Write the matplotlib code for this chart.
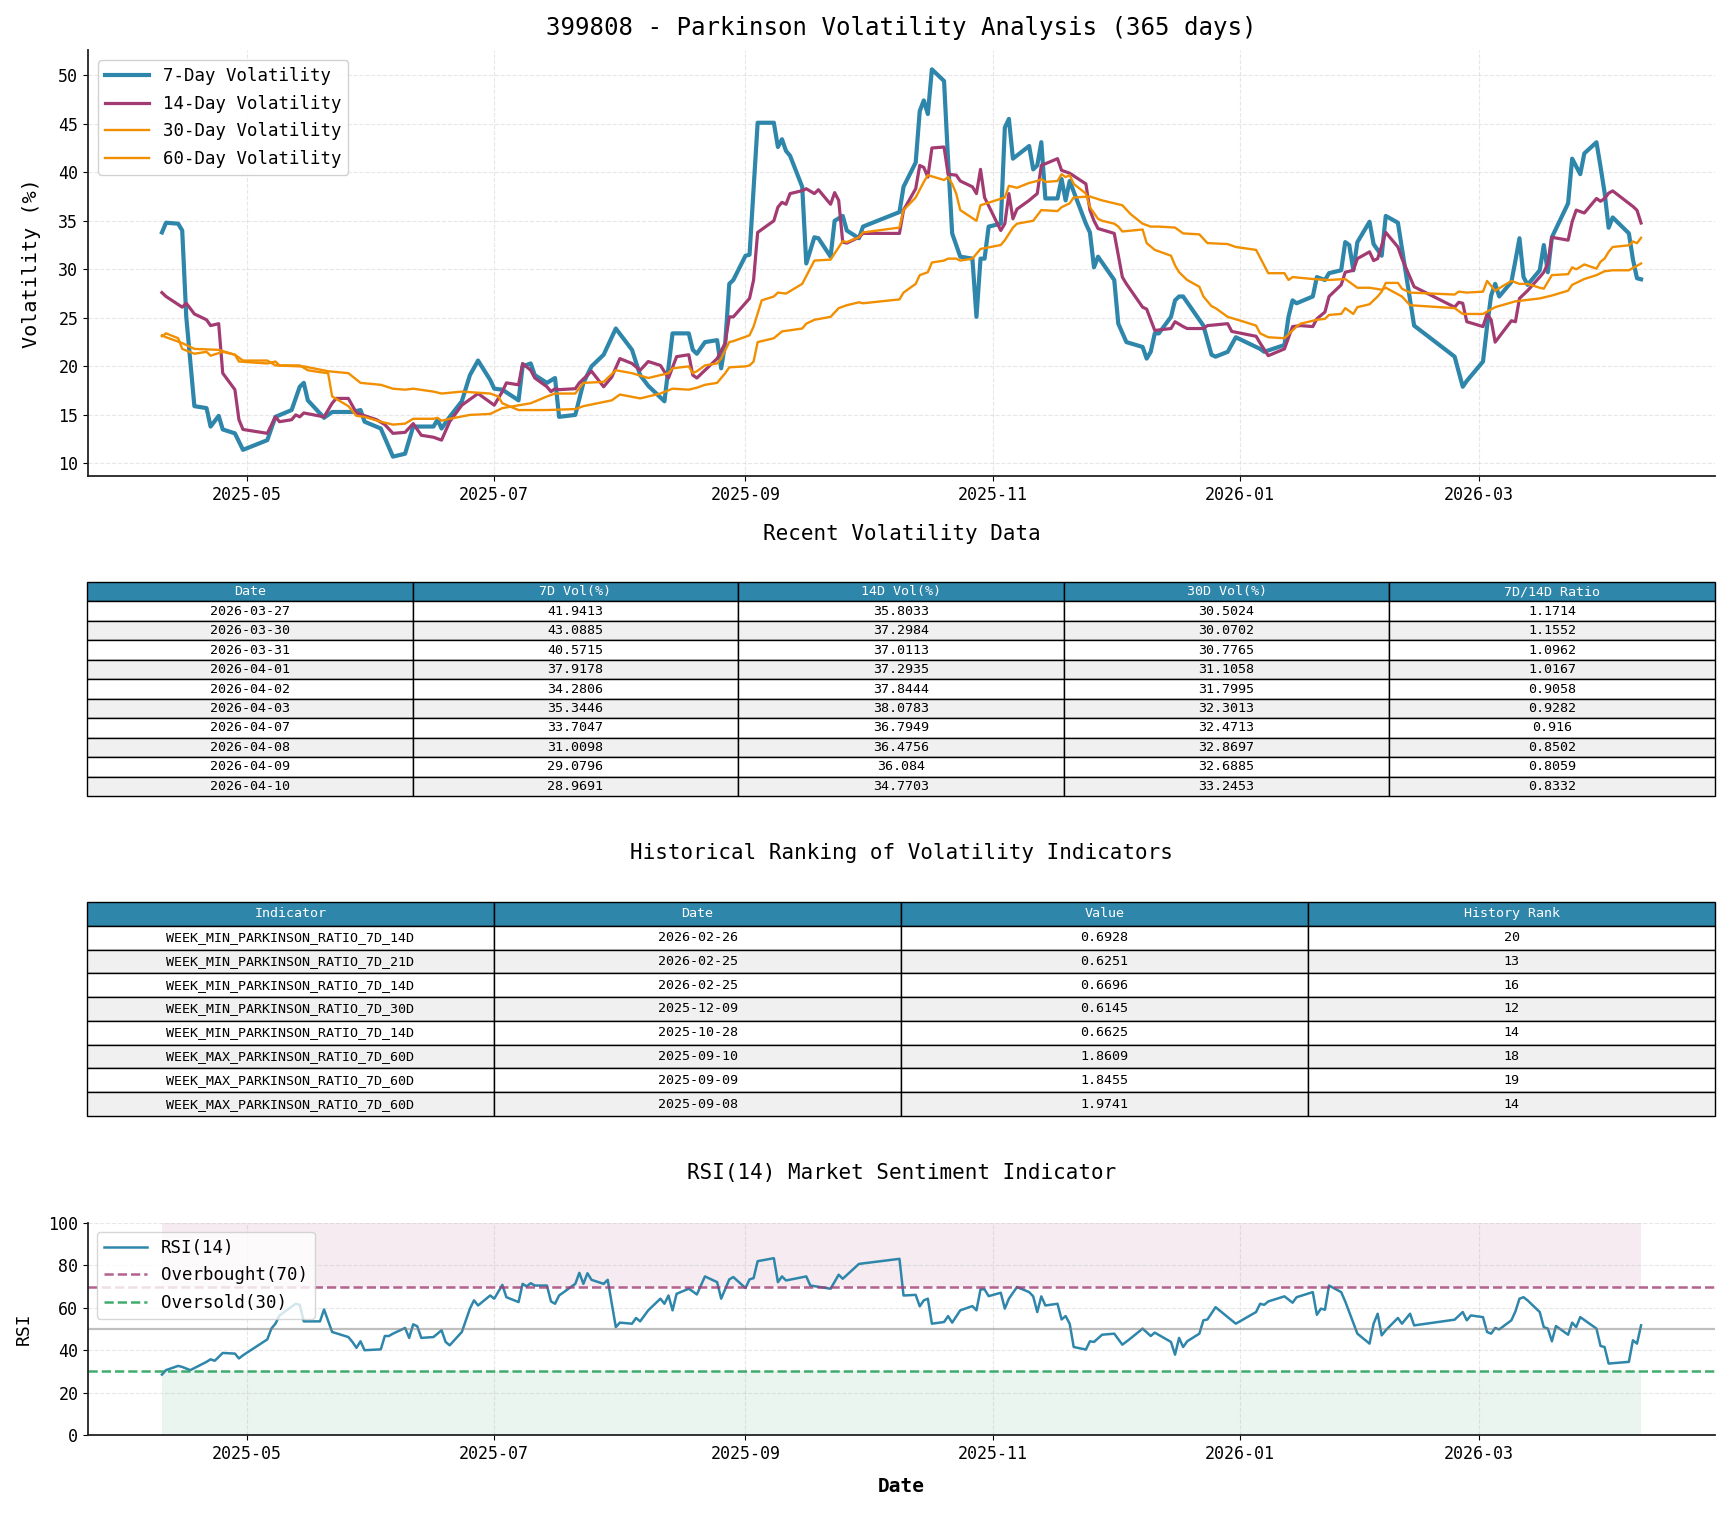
import matplotlib
matplotlib.use("Agg")
import matplotlib.pyplot as plt
import matplotlib.dates as mdates
import pandas as pd

plt.rcParams["font.family"] = ["DejaVu Sans Mono"]
plt.rcParams["axes.unicode_minus"] = False

BLUE = "#2E86AB"
PURPLE = "#A23B72"
ORANGE = "#F18F01"
GREEN = "#2ca25f"

# ---- recent table (also the last 10 points of the 7D/14D/30D lines) ----
recent_dates = ["2026-03-27", "2026-03-30", "2026-03-31", "2026-04-01", "2026-04-02",
                "2026-04-03", "2026-04-07", "2026-04-08", "2026-04-09", "2026-04-10"]
recent_7d = [41.9413, 43.0885, 40.5715, 37.9178, 34.2806, 35.3446, 33.7047, 31.0098, 29.0796, 28.9691]
recent_14d = [35.8033, 37.2984, 37.0113, 37.2935, 37.8444, 38.0783, 36.7949, 36.4756, 36.084, 34.7703]
recent_30d = [30.5024, 30.0702, 30.7765, 31.1058, 31.7995, 32.3013, 32.4713, 32.8697, 32.6885, 33.2453]
recent_ratio = [1.1714, 1.1552, 1.0962, 1.0167, 0.9058, 0.9282, 0.916, 0.8502, 0.8059, 0.8332]

# ---- ranking table ----
rank_indicators = ["WEEK_MIN_PARKINSON_RATIO_7D_14D", "WEEK_MIN_PARKINSON_RATIO_7D_21D",
                   "WEEK_MIN_PARKINSON_RATIO_7D_14D", "WEEK_MIN_PARKINSON_RATIO_7D_30D",
                   "WEEK_MIN_PARKINSON_RATIO_7D_14D", "WEEK_MAX_PARKINSON_RATIO_7D_60D",
                   "WEEK_MAX_PARKINSON_RATIO_7D_60D", "WEEK_MAX_PARKINSON_RATIO_7D_60D"]
rank_dates = ["2026-02-26", "2026-02-25", "2026-02-25", "2025-12-09",
              "2025-10-28", "2025-09-10", "2025-09-09", "2025-09-08"]
rank_values = [0.6928, 0.6251, 0.6696, 0.6145, 0.6625, 1.8609, 1.8455, 1.9741]
rank_history = [20, 13, 16, 12, 14, 18, 19, 14]

# ---- 7-day volatility (before the table period) ----
vol7_dates = """2025-04-10 2025-04-11 2025-04-14 2025-04-15 2025-04-16 2025-04-18 2025-04-21 2025-04-22
2025-04-24 2025-04-25 2025-04-28 2025-04-30 2025-05-06 2025-05-08 2025-05-12 2025-05-14 2025-05-15
2025-05-16 2025-05-20 2025-05-22 2025-05-27 2025-05-29 2025-05-30 2025-06-03 2025-06-06 2025-06-09
2025-06-11 2025-06-16 2025-06-17 2025-06-18 2025-06-20 2025-06-23 2025-06-25 2025-06-27 2025-06-30
2025-07-01 2025-07-03 2025-07-07 2025-07-08 2025-07-10 2025-07-11 2025-07-14 2025-07-16 2025-07-17
2025-07-21 2025-07-23 2025-07-25 2025-07-28 2025-07-31 2025-08-04 2025-08-06 2025-08-08 2025-08-12
2025-08-14 2025-08-18 2025-08-19 2025-08-20 2025-08-22 2025-08-25 2025-08-26 2025-08-27 2025-08-28
2025-08-29 2025-09-01 2025-09-02 2025-09-04 2025-09-08 2025-09-09 2025-09-10 2025-09-11 2025-09-12
2025-09-15 2025-09-16 2025-09-18 2025-09-19 2025-09-22 2025-09-23 2025-09-25 2025-09-26 2025-09-29
2025-09-30 2025-10-09 2025-10-10 2025-10-13 2025-10-14 2025-10-15 2025-10-16 2025-10-17 2025-10-20
2025-10-21 2025-10-22 2025-10-24 2025-10-27 2025-10-28 2025-10-29 2025-10-30 2025-10-31 2025-11-03
2025-11-04 2025-11-05 2025-11-06 2025-11-10 2025-11-11 2025-11-12 2025-11-13 2025-11-14 2025-11-17
2025-11-18 2025-11-19 2025-11-20 2025-11-24 2025-11-25 2025-11-26 2025-11-27 2025-12-01 2025-12-02
2025-12-04 2025-12-08 2025-12-09 2025-12-10 2025-12-11 2025-12-12 2025-12-15 2025-12-16 2025-12-17
2025-12-18 2025-12-23 2025-12-25 2025-12-26 2025-12-29 2025-12-31 2026-01-06 2026-01-07 2026-01-12
2026-01-13 2026-01-14 2026-01-15 2026-01-19 2026-01-20 2026-01-22 2026-01-23 2026-01-26 2026-01-27
2026-01-28 2026-01-29 2026-01-30 2026-02-02 2026-02-03 2026-02-05 2026-02-06 2026-02-09 2026-02-13
2026-02-23 2026-02-25 2026-02-26 2026-03-02 2026-03-03 2026-03-04 2026-03-05 2026-03-06 2026-03-09
2026-03-10 2026-03-11 2026-03-12 2026-03-13 2026-03-16 2026-03-17 2026-03-18 2026-03-19 2026-03-23
2026-03-24 2026-03-26""".split()
vol7 = [33.8, 34.8, 34.7, 34.0, 25.1, 15.9, 15.7, 13.8,
        14.9, 13.5, 13.1, 11.4, 12.4, 14.8, 15.5, 17.9, 18.3,
        16.5, 14.7, 15.3, 15.3, 15.5, 14.3, 13.6, 10.7, 11.0,
        13.8, 13.8, 14.5, 13.6, 14.8, 16.4, 19.1, 20.6, 18.6,
        17.7, 17.6, 16.5, 20.0, 20.3, 19.1, 18.3, 18.8, 14.8,
        15.0, 18.3, 20.0, 21.2, 23.9, 21.7, 19.1, 18.0, 16.4,
        23.4, 23.4, 21.7, 21.3, 22.5, 22.7, 19.8, 22.4, 28.5,
        28.9, 31.4, 31.5, 45.1, 45.1, 42.6, 43.4, 42.2, 41.7,
        38.5, 30.6, 33.3, 33.2, 31.3, 35.0, 35.5, 34.0, 33.2,
        34.4, 35.9, 38.5, 41.0, 46.3, 47.4, 46.0, 50.6, 49.4,
        41.2, 33.7, 31.3, 31.1, 25.1, 31.1, 31.1, 34.4, 34.7,
        44.6, 45.5, 41.4, 42.7, 40.3, 40.7, 43.1, 37.3, 37.3,
        39.3, 37.1, 39.1, 34.7, 33.8, 30.2, 31.3, 28.9, 24.4,
        22.5, 22.0, 20.8, 21.5, 23.4, 23.4, 25.1, 26.8, 27.2,
        27.2, 24.2, 21.2, 21.0, 21.5, 23.0, 21.8, 21.5, 22.2,
        25.1, 26.8, 26.5, 27.2, 29.2, 28.9, 29.6, 29.9, 32.8,
        32.5, 29.9, 32.8, 34.9, 32.6, 31.4, 35.5, 34.8, 24.2,
        21.0, 17.9, 18.5, 20.5, 24.1, 27.3, 28.5, 27.2, 28.7,
        30.9, 33.2, 29.2, 28.4, 29.9, 32.5, 29.7, 33.3, 36.8,
        41.4, 39.8]

# ---- 14-day volatility ----
vol14_dates = """2025-04-10 2025-04-11 2025-04-15 2025-04-16 2025-04-18 2025-04-21 2025-04-22 2025-04-24
2025-04-25 2025-04-28 2025-04-29 2025-04-30 2025-05-06 2025-05-08 2025-05-09 2025-05-12 2025-05-13
2025-05-14 2025-05-15 2025-05-20 2025-05-22 2025-05-23 2025-05-26 2025-05-28 2025-06-02 2025-06-04
2025-06-06 2025-06-09 2025-06-11 2025-06-13 2025-06-16 2025-06-18 2025-06-20 2025-06-23 2025-06-27
2025-07-01 2025-07-03 2025-07-04 2025-07-07 2025-07-08 2025-07-10 2025-07-11 2025-07-14 2025-07-15
2025-07-16 2025-07-17 2025-07-21 2025-07-22 2025-07-25 2025-07-28 2025-07-30 2025-08-01 2025-08-04
2025-08-06 2025-08-08 2025-08-11 2025-08-13 2025-08-15 2025-08-18 2025-08-19 2025-08-20 2025-08-22
2025-08-25 2025-08-27 2025-08-28 2025-08-29 2025-09-02 2025-09-03 2025-09-04 2025-09-08 2025-09-09
2025-09-10 2025-09-11 2025-09-12 2025-09-15 2025-09-16 2025-09-18 2025-09-19 2025-09-22 2025-09-23
2025-09-24 2025-09-25 2025-09-26 2025-09-29 2025-09-30 2025-10-09 2025-10-10 2025-10-13 2025-10-14
2025-10-15 2025-10-16 2025-10-17 2025-10-20 2025-10-21 2025-10-23 2025-10-24 2025-10-27 2025-10-28
2025-10-29 2025-10-30 2025-11-03 2025-11-04 2025-11-05 2025-11-06 2025-11-07 2025-11-10 2025-11-12
2025-11-13 2025-11-17 2025-11-18 2025-11-20 2025-11-24 2025-11-25 2025-11-26 2025-11-27 2025-12-01
2025-12-03 2025-12-04 2025-12-08 2025-12-09 2025-12-11 2025-12-15 2025-12-16 2025-12-18 2025-12-19
2025-12-23 2025-12-24 2025-12-29 2025-12-30 2026-01-05 2026-01-06 2026-01-08 2026-01-12 2026-01-14
2026-01-16 2026-01-19 2026-01-20 2026-01-22 2026-01-23 2026-01-26 2026-01-27 2026-01-29 2026-01-30
2026-02-02 2026-02-03 2026-02-04 2026-02-06 2026-02-09 2026-02-10 2026-02-13 2026-02-23 2026-02-24
2026-02-25 2026-02-26 2026-03-02 2026-03-03 2026-03-04 2026-03-05 2026-03-09 2026-03-10 2026-03-11
2026-03-13 2026-03-16 2026-03-17 2026-03-18 2026-03-19 2026-03-23 2026-03-24 2026-03-25""".split()
vol14 = [27.6, 27.2, 26.1, 26.5, 25.4, 24.8, 24.2, 24.4,
         19.3, 17.6, 14.5, 13.5, 13.1, 14.8, 14.3, 14.5, 15.0,
         14.8, 15.2, 14.8, 16.2, 16.7, 16.7, 15.2, 14.5, 14.0,
         13.1, 13.2, 14.1, 12.9, 12.7, 12.4, 14.3, 16.0, 17.2,
         16.0, 17.4, 18.3, 18.1, 20.3, 19.6, 18.8, 17.9, 17.4,
         17.7, 17.6, 17.7, 18.3, 19.5, 17.9, 18.9, 20.8, 20.3,
         19.6, 20.5, 20.1, 18.8, 21.0, 21.2, 19.1, 18.8, 19.6,
         20.8, 22.4, 25.1, 25.1, 27.0, 28.9, 33.8, 35.0, 36.4,
         36.9, 36.7, 37.8, 38.1, 38.3, 37.8, 38.2, 36.7, 37.9,
         37.1, 32.8, 32.7, 33.3, 33.7, 33.7, 36.1, 38.3, 40.7,
         40.5, 39.5, 42.5, 42.6, 39.8, 39.7, 39.1, 38.5, 37.8,
         40.3, 37.4, 34.0, 34.7, 37.8, 35.2, 36.2, 37.1, 37.8,
         40.7, 41.4, 40.2, 39.9, 38.8, 36.1, 35.0, 34.2, 33.7,
         29.2, 28.5, 26.1, 25.9, 23.7, 23.9, 24.6, 24.1, 23.9,
         23.9, 24.2, 24.4, 23.6, 23.1, 22.4, 21.1, 21.8, 24.1,
         24.2, 24.1, 24.9, 25.6, 27.2, 28.4, 29.7, 29.9, 31.1,
         31.8, 30.9, 31.1, 33.8, 32.3, 31.1, 28.2, 26.1, 26.6,
         26.5, 24.6, 24.1, 25.4, 24.8, 22.5, 24.7, 24.6, 27.0,
         27.8, 29.2, 29.7, 30.6, 33.3, 33.0, 34.9, 36.1]

# ---- 30-day volatility ----
vol30_dates = """2025-04-10 2025-04-11 2025-04-14 2025-04-15 2025-04-18 2025-04-21 2025-04-22 2025-04-25
2025-04-28 2025-04-29 2025-05-06 2025-05-08 2025-05-09 2025-05-14 2025-05-16 2025-05-19 2025-05-21
2025-05-22 2025-05-26 2025-05-28 2025-05-30 2025-06-03 2025-06-06 2025-06-09 2025-06-11 2025-06-16
2025-06-17 2025-06-18 2025-06-20 2025-06-25 2025-06-30 2025-07-03 2025-07-10 2025-07-14 2025-07-16
2025-07-21 2025-07-23 2025-07-28 2025-07-31 2025-08-04 2025-08-08 2025-08-13 2025-08-14 2025-08-18
2025-08-19 2025-08-20 2025-08-22 2025-08-25 2025-08-26 2025-08-28 2025-08-29 2025-09-02 2025-09-03
2025-09-05 2025-09-08 2025-09-09 2025-09-11 2025-09-15 2025-09-18 2025-09-22 2025-09-25 2025-09-26
2025-09-29 2025-09-30 2025-10-09 2025-10-10 2025-10-13 2025-10-15 2025-10-16 2025-10-20 2025-10-21
2025-10-22 2025-10-23 2025-10-24 2025-10-28 2025-10-29 2025-11-04 2025-11-05 2025-11-07 2025-11-10
2025-11-12 2025-11-13 2025-11-14 2025-11-17 2025-11-18 2025-11-19 2025-11-20 2025-11-21 2025-11-24
2025-11-25 2025-11-27 2025-11-28 2025-12-01 2025-12-02 2025-12-03 2025-12-08 2025-12-09 2025-12-11
2025-12-15 2025-12-16 2025-12-17 2025-12-19 2025-12-22 2025-12-23 2025-12-25 2025-12-26 2025-12-29
2026-01-02 2026-01-05 2026-01-06 2026-01-08 2026-01-12 2026-01-15 2026-01-16 2026-01-20 2026-01-22
2026-01-23 2026-01-26 2026-01-27 2026-01-29 2026-01-30 2026-02-02 2026-02-04 2026-02-05 2026-02-06
2026-02-09 2026-02-10 2026-02-12 2026-02-23 2026-02-24 2026-02-26 2026-03-02 2026-03-03 2026-03-05
2026-03-09 2026-03-11 2026-03-13 2026-03-16 2026-03-17 2026-03-19 2026-03-23 2026-03-24 2026-03-25""".split()
vol30 = [23.1, 23.4, 22.9, 21.8, 21.3, 21.5, 21.1, 21.5,
         21.2, 20.5, 20.3, 20.5, 20.1, 20.1, 19.6, 19.4, 19.3,
         16.9, 15.9, 14.9, 14.8, 14.3, 14.0, 14.1, 14.6, 14.6,
         14.7, 14.4, 14.6, 15.0, 15.1, 15.7, 16.2, 16.9, 17.2,
         17.2, 18.3, 18.4, 19.6, 19.3, 18.8, 19.3, 19.8, 20.0,
         19.3, 19.5, 20.1, 20.3, 20.8, 22.5, 22.6, 23.2, 24.1,
         26.8, 27.2, 27.6, 27.5, 28.5, 30.9, 31.0, 32.9, 32.8,
         33.3, 33.8, 34.3, 36.1, 37.4, 39.0, 39.7, 39.2, 39.5,
         38.8, 37.8, 36.1, 35.0, 36.6, 37.4, 38.6, 38.4, 38.9,
         39.1, 39.3, 39.0, 39.1, 39.8, 39.5, 39.7, 38.8, 37.8,
         36.4, 35.2, 35.0, 34.7, 34.4, 33.9, 34.1, 32.7, 32.0,
         31.4, 30.4, 29.7, 28.9, 28.2, 27.2, 26.2, 26.0, 25.1,
         24.6, 24.2, 23.4, 23.0, 22.9, 24.1, 24.4, 24.8, 24.9,
         25.3, 25.4, 26.0, 25.4, 26.1, 26.4, 27.2, 27.7, 28.6,
         28.6, 28.0, 27.6, 27.4, 27.7, 27.6, 27.7, 28.8, 27.8,
         28.8, 28.5, 28.5, 28.1, 28.0, 29.4, 29.5, 30.2, 30.0]

# ---- 60-day volatility ----
vol60_dates = """2025-04-10 2025-04-11 2025-04-15 2025-04-18 2025-04-24 2025-04-28 2025-04-30 2025-05-06
2025-05-08 2025-05-14 2025-05-15 2025-05-21 2025-05-26 2025-05-29 2025-06-03 2025-06-06 2025-06-09
2025-06-11 2025-06-16 2025-06-18 2025-06-23 2025-06-30 2025-07-02 2025-07-03 2025-07-07 2025-07-14
2025-07-21 2025-07-23 2025-07-30 2025-08-01 2025-08-06 2025-08-08 2025-08-11 2025-08-14 2025-08-18
2025-08-20 2025-08-22 2025-08-25 2025-08-27 2025-08-28 2025-09-01 2025-09-02 2025-09-03 2025-09-04
2025-09-08 2025-09-10 2025-09-15 2025-09-16 2025-09-18 2025-09-22 2025-09-24 2025-09-26 2025-09-29
2025-09-30 2025-10-09 2025-10-10 2025-10-13 2025-10-14 2025-10-16 2025-10-17 2025-10-20 2025-10-21
2025-10-23 2025-10-24 2025-10-27 2025-10-29 2025-11-03 2025-11-04 2025-11-06 2025-11-07 2025-11-11
2025-11-13 2025-11-17 2025-11-18 2025-11-20 2025-11-21 2025-11-25 2025-11-28 2025-12-03 2025-12-05
2025-12-08 2025-12-10 2025-12-12 2025-12-16 2025-12-18 2025-12-22 2025-12-24 2025-12-29 2025-12-31
2026-01-05 2026-01-08 2026-01-12 2026-01-13 2026-01-14 2026-01-19 2026-01-23 2026-01-27 2026-01-30
2026-02-02 2026-02-05 2026-02-06 2026-02-10 2026-02-12 2026-02-23 2026-02-25 2026-03-02 2026-03-05
2026-03-10 2026-03-16 2026-03-19 2026-03-23 2026-03-24 2026-03-27 2026-03-30 2026-04-01 2026-04-03
2026-04-07 2026-04-10""".split()
vol60 = [23.2, 23.0, 22.4, 21.8, 21.7, 21.2, 20.6, 20.6,
         20.1, 20.0, 20.0, 19.5, 19.3, 18.3, 18.1, 17.7, 17.6,
         17.7, 17.4, 17.2, 17.4, 17.2, 16.9, 16.2, 15.5, 15.5,
         15.6, 15.9, 16.5, 17.1, 16.7, 16.9, 17.2, 17.7, 17.6,
         17.8, 18.1, 18.3, 19.3, 19.9, 20.0, 20.1, 20.5, 22.5,
         22.9, 23.6, 23.9, 24.4, 24.8, 25.1, 26.0, 26.3, 26.6,
         26.5, 26.9, 27.6, 28.5, 29.4, 29.7, 30.7, 30.9, 31.1,
         31.1, 30.9, 31.1, 32.1, 32.5, 33.0, 34.3, 34.7, 35.0,
         36.1, 36.0, 36.4, 36.8, 37.4, 37.5, 37.1, 36.6, 35.7,
         34.7, 34.4, 34.4, 34.3, 33.7, 33.6, 32.7, 32.6, 32.3,
         32.0, 29.6, 29.6, 28.9, 29.2, 29.0, 28.9, 29.0, 28.1,
         28.1, 27.9, 28.1, 27.2, 26.3, 26.0, 25.4, 25.4, 26.1,
         26.7, 27.0, 27.3, 27.8, 28.4, 29.0, 29.4, 29.8, 29.9,
         29.9, 30.6]

# ---- RSI(14) ----
rsi_dates = """2025-04-10 2025-04-11 2025-04-14 2025-04-15 2025-04-17 2025-04-21 2025-04-22 2025-04-23
2025-04-24 2025-04-25 2025-04-28 2025-04-29 2025-04-30 2025-05-06 2025-05-07 2025-05-08 2025-05-09
2025-05-13 2025-05-14 2025-05-15 2025-05-19 2025-05-20 2025-05-22 2025-05-26 2025-05-27 2025-05-28
2025-05-29 2025-05-30 2025-06-03 2025-06-04 2025-06-05 2025-06-06 2025-06-09 2025-06-10 2025-06-11
2025-06-12 2025-06-13 2025-06-16 2025-06-18 2025-06-19 2025-06-20 2025-06-23 2025-06-25 2025-06-26
2025-06-27 2025-06-30 2025-07-01 2025-07-03 2025-07-04 2025-07-07 2025-07-08 2025-07-09 2025-07-10
2025-07-11 2025-07-14 2025-07-15 2025-07-16 2025-07-17 2025-07-21 2025-07-22 2025-07-23 2025-07-24
2025-07-25 2025-07-28 2025-07-29 2025-07-31 2025-08-01 2025-08-04 2025-08-05 2025-08-06 2025-08-08
2025-08-11 2025-08-12 2025-08-13 2025-08-14 2025-08-15 2025-08-18 2025-08-19 2025-08-20 2025-08-21
2025-08-22 2025-08-25 2025-08-26 2025-08-28 2025-08-29 2025-09-01 2025-09-02 2025-09-03 2025-09-04
2025-09-08 2025-09-09 2025-09-10 2025-09-11 2025-09-16 2025-09-17 2025-09-22 2025-09-24 2025-09-25
2025-09-29 2025-10-09 2025-10-10 2025-10-13 2025-10-14 2025-10-15 2025-10-16 2025-10-17 2025-10-20
2025-10-21 2025-10-22 2025-10-24 2025-10-27 2025-10-28 2025-10-29 2025-10-30 2025-10-31 2025-11-03
2025-11-04 2025-11-05 2025-11-07 2025-11-10 2025-11-11 2025-11-12 2025-11-13 2025-11-14 2025-11-17
2025-11-18 2025-11-19 2025-11-20 2025-11-21 2025-11-24 2025-11-25 2025-11-26 2025-11-28 2025-12-01
2025-12-03 2025-12-05 2025-12-08 2025-12-10 2025-12-11 2025-12-15 2025-12-16 2025-12-17 2025-12-18
2025-12-19 2025-12-22 2025-12-23 2025-12-24 2025-12-26 2025-12-29 2025-12-31 2026-01-05 2026-01-06
2026-01-07 2026-01-08 2026-01-12 2026-01-14 2026-01-15 2026-01-19 2026-01-20 2026-01-21 2026-01-22
2026-01-23 2026-01-26 2026-01-27 2026-01-30 2026-02-02 2026-02-03 2026-02-04 2026-02-05 2026-02-06
2026-02-09 2026-02-10 2026-02-12 2026-02-13 2026-02-23 2026-02-25 2026-02-26 2026-02-27 2026-03-02
2026-03-03 2026-03-04 2026-03-05 2026-03-06 2026-03-09 2026-03-10 2026-03-11 2026-03-12 2026-03-13
2026-03-16 2026-03-17 2026-03-18 2026-03-19 2026-03-20 2026-03-23 2026-03-24 2026-03-25 2026-03-26
2026-03-30 2026-03-31 2026-04-01 2026-04-02 2026-04-07 2026-04-08 2026-04-09 2026-04-10""".split()
rsi = [28.5, 30.6, 32.6, 32.1, 30.6, 34.5, 35.7, 35.0,
       36.8, 38.7, 38.4, 36.1, 37.6, 45.1, 50.2, 52.5, 56.4,
       61.9, 61.4, 53.6, 53.6, 59.2, 48.6, 46.2, 43.9, 41.1,
       44.2, 40.0, 40.4, 46.7, 46.7, 47.8, 50.5, 45.8, 52.2,
       51.3, 45.8, 46.2, 49.4, 43.9, 42.3, 48.6, 59.6, 63.5,
       61.1, 65.8, 64.3, 70.8, 65.0, 62.7, 71.3, 70.1, 71.6,
       70.5, 70.5, 63.0, 61.9, 65.8, 71.3, 76.5, 71.3, 76.3,
       73.2, 71.3, 73.2, 50.9, 53.0, 52.5, 55.2, 53.6, 58.8,
       64.3, 61.9, 65.8, 58.8, 66.6, 69.0, 67.7, 66.3, 70.5,
       74.8, 72.1, 64.3, 73.4, 74.5, 69.3, 73.4, 74.0, 82.0,
       83.4, 72.1, 74.8, 72.9, 74.8, 70.5, 69.0, 75.6, 73.7,
       80.7, 83.1, 65.8, 66.1, 60.7, 63.5, 64.3, 52.5, 53.3,
       56.1, 53.0, 58.8, 60.8, 58.8, 68.7, 68.7, 65.5, 67.1,
       59.6, 64.3, 69.8, 67.4, 65.4, 58.0, 65.4, 61.1, 61.9,
       54.5, 56.1, 52.5, 41.5, 40.3, 44.2, 43.9, 47.3, 47.8,
       42.6, 45.5, 50.2, 46.7, 48.3, 43.9, 37.9, 45.8, 41.5,
       44.2, 47.8, 54.1, 54.5, 60.3, 55.6, 52.5, 58.0, 61.9,
       61.4, 63.0, 65.4, 62.4, 65.0, 67.4, 56.7, 59.6, 59.1,
       70.5, 67.4, 63.0, 47.8, 43.1, 52.5, 57.2, 47.0, 49.4,
       55.2, 52.5, 57.2, 51.7, 54.4, 58.0, 54.1, 56.4, 55.6,
       48.6, 47.8, 50.5, 49.8, 54.1, 58.3, 64.3, 65.0, 63.5,
       58.0, 50.9, 50.2, 44.2, 51.4, 47.3, 53.0, 50.9, 55.6,
       50.2, 42.0, 41.5, 33.7, 34.5, 44.7, 43.1, 51.7]

# ---- build series ----
d7 = pd.to_datetime(vol7_dates + recent_dates)
v7 = vol7 + recent_7d
d14 = pd.to_datetime(vol14_dates + recent_dates)
v14 = vol14 + recent_14d
d30 = pd.to_datetime(vol30_dates + recent_dates)
v30 = vol30 + recent_30d
d60 = pd.to_datetime(vol60_dates)
drsi = pd.to_datetime(rsi_dates)

W, H = 1729, 1513


def box(left, top, right, bottom):
    # pixel box -> figure fraction
    return [left / W, 1 - bottom / H, (right - left) / W, (bottom - top) / H]


def style_axis(ax):
    ax.spines["top"].set_visible(False)
    ax.spines["right"].set_visible(False)
    for s in ("left", "bottom"):
        ax.spines[s].set_linewidth(1.3)
        ax.spines[s].set_color("#222222")
    ax.grid(True, linestyle="--", alpha=0.3)
    ax.tick_params(labelsize=12)
    ax.xaxis.set_major_locator(mdates.MonthLocator(bymonth=[1, 3, 5, 7, 9, 11]))
    ax.xaxis.set_major_formatter(mdates.DateFormatter("%Y-%m"))


fig = plt.figure(figsize=(W / 100, H / 100), dpi=100)
center_x = (88 + 1715) / 2 / W

# ---- volatility lines ----
ax1 = fig.add_axes(box(88, 50, 1715, 476))
ax1.plot(d7, v7, color=BLUE, lw=3, label="7-Day Volatility")
ax1.plot(d14, v14, color=PURPLE, lw=2.3, label="14-Day Volatility")
ax1.plot(d30, v30, color=ORANGE, lw=1.7, label="30-Day Volatility")
ax1.plot(d60, vol60, color=ORANGE, lw=1.7, label="60-Day Volatility")
style_axis(ax1)
ax1.set_ylabel("Volatility (%)", fontsize=14.5)
ax1.yaxis.set_label_coords(-0.029, 0.5)
ax1.legend(loc="upper left", fontsize=12.5, framealpha=0.9, handlelength=2.5,
           labelspacing=0.55, borderaxespad=0.6)
fig.text(center_x, 1 - 28 / H, "399808 - Parkinson Volatility Analysis (365 days)",
         ha="center", va="center", fontsize=17.4)

# ---- recent data table ----
fig.text(center_x, 1 - 534 / H, "Recent Volatility Data",
         ha="center", va="center", fontsize=15)
axt1 = fig.add_axes(box(87, 582, 1715, 796))
axt1.axis("off")
rows1 = [[d, f"{a:g}", f"{b:g}", f"{c:g}", f"{r:g}"]
         for d, a, b, c, r in zip(recent_dates, recent_7d, recent_14d, recent_30d, recent_ratio)]
tb1 = axt1.table(cellText=rows1,
                 colLabels=["Date", "7D Vol(%)", "14D Vol(%)", "30D Vol(%)", "7D/14D Ratio"],
                 cellLoc="center", bbox=[0, 0, 1, 1])

# ---- ranking table ----
fig.text(center_x, 1 - 853 / H, "Historical Ranking of Volatility Indicators",
         ha="center", va="center", fontsize=15)
axt2 = fig.add_axes(box(87, 902, 1715, 1116))
axt2.axis("off")
rows2 = [[n, d, f"{v:g}", str(h)] for n, d, v, h in zip(rank_indicators, rank_dates, rank_values, rank_history)]
tb2 = axt2.table(cellText=rows2, colLabels=["Indicator", "Date", "Value", "History Rank"],
                 cellLoc="center", bbox=[0, 0, 1, 1])

for tb in (tb1, tb2):
    tb.auto_set_font_size(False)
    tb.set_fontsize(9.6)
    for (r, c), cell in tb.get_celld().items():
        cell.set_edgecolor("black")
        cell.set_linewidth(1.0)
        if r == 0:
            cell.set_facecolor(BLUE)
            cell.get_text().set_color("white")
        elif r % 2 == 0:
            cell.set_facecolor("#f0f0f0")
        else:
            cell.set_facecolor("white")

# ---- RSI ----
fig.text(center_x, 1 - 1173 / H, "RSI(14) Market Sentiment Indicator",
         ha="center", va="center", fontsize=15)
ax3 = fig.add_axes(box(88, 1223, 1715, 1435))
ax3.fill_between(drsi, 70, 100, color=PURPLE, alpha=0.1, lw=0)
ax3.fill_between(drsi, 0, 30, color=GREEN, alpha=0.1, lw=0)
ax3.plot(drsi, rsi, color=BLUE, lw=1.8, label="RSI(14)")
ax3.axhline(70, color=PURPLE, ls="--", lw=1.8, alpha=0.8, label="Overbought(70)")
ax3.axhline(30, color=GREEN, ls="--", lw=1.8, alpha=0.9, label="Oversold(30)")
ax3.axhline(50, color="gray", lw=1.6, alpha=0.5)
style_axis(ax3)
ax3.set_ylim(0, 100)
ax3.set_xlim(ax1.get_xlim())
ax3.set_ylabel("RSI", fontsize=13)
ax3.yaxis.set_label_coords(-0.034, 0.5)
ax3.set_xlabel("Date", fontsize=14, fontweight="bold")
ax3.xaxis.set_label_coords(0.5, -0.20)
ax3.legend(loc="upper left", fontsize=12.5, framealpha=0.8, handlelength=2.5,
           labelspacing=0.55)

fig.savefig("out.png", dpi=100)
